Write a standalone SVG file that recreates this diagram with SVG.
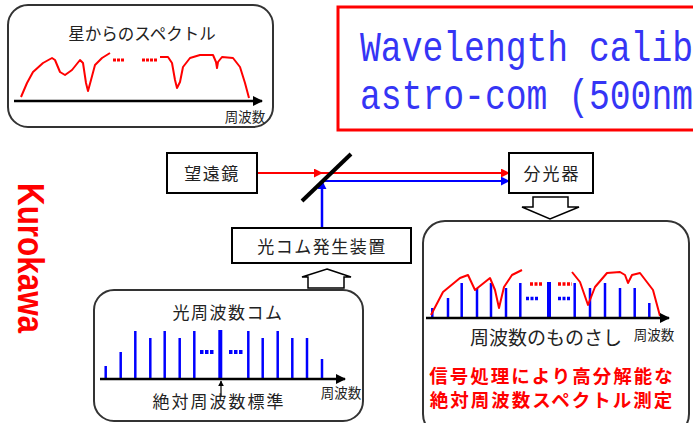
<svg xmlns="http://www.w3.org/2000/svg" width="693" height="423" viewBox="0 0 693 423">
<defs>
<style>
.jp{font-family:"Noto Sans CJK JP","Noto Sans",sans-serif;fill:#222;}
.box{fill:#fff;stroke:#000;stroke-width:2;}
.rbox{fill:#fff;stroke:#333;stroke-width:2;}
.axis{stroke:#000;stroke-width:2.5;fill:none;}
.spec{stroke:#f00;stroke-width:2;fill:none;stroke-linejoin:round;}
.comb{stroke:#00f;stroke-width:2.5;}
.blk{fill:#fff;stroke:#000;stroke-width:1.5;}
.red{font-family:"Noto Sans CJK JP","Noto Sans",sans-serif;fill:#f00;font-weight:bold;}
</style>
<marker id="ak" viewBox="0 0 10 10" refX="9" refY="5" markerWidth="10" markerHeight="10" markerUnits="userSpaceOnUse" orient="auto"><path d="M0,0 L10,5 L0,10 z" fill="#000"/></marker>
<marker id="ar" viewBox="0 0 10 10" refX="9" refY="5" markerWidth="9" markerHeight="9" markerUnits="userSpaceOnUse" orient="auto"><path d="M0,0 L10,5 L0,10 z" fill="#f00"/></marker>
<marker id="ab" viewBox="0 0 10 10" refX="9" refY="5" markerWidth="9" markerHeight="9" markerUnits="userSpaceOnUse" orient="auto"><path d="M0,0 L10,5 L0,10 z" fill="#00f"/></marker>
<marker id="at" viewBox="0 0 10 10" refX="9" refY="5" markerWidth="6" markerHeight="6" markerUnits="userSpaceOnUse" orient="auto"><path d="M0,0 L10,5 L0,10 z" fill="#000"/></marker>
</defs>
<rect width="693" height="423" fill="#fff"/>

<g id="star-spectrum">
<rect class="rbox" x="8" y="5" width="265" height="122" rx="20"/>
<text class="jp" x="142" y="40" font-size="16.5" text-anchor="middle">星からのスペクトル</text>
<path class="spec" d="M21,97 L27,83 L33,72 L43,63 L52,58 L55,60 L60,72 L65,75 L72,70 L80,60 L83,63 L86,83 L88,91 L91,80 L95,65 L102,58 L110,53"/>
<path class="spec" d="M160,57 L168,57 L172,63 L175,80 L177,88 L180,82 L183,67 L190,58 L200,55 L213,55 L216,62 L217,68 L218,62 L222,57 L233,58 L240,67 L245,83 L249,98"/>
<line x1="113" y1="60" x2="124" y2="60" stroke="#f00" stroke-width="3" stroke-dasharray="3,1"/>
<line x1="142" y1="60" x2="157" y2="60" stroke="#f00" stroke-width="3" stroke-dasharray="3,1"/>
<line class="axis" x1="14" y1="101" x2="262" y2="101" marker-end="url(#ak)"/>
<text class="jp" x="245" y="122" font-size="13.5" text-anchor="middle">周波数</text>
</g>

<g id="title">
<rect x="338" y="7" width="370" height="123" fill="#fff" stroke="#f00" stroke-width="3"/>
<text transform="translate(360,61) scale(1,1.25)" font-family="Liberation Mono, monospace" font-size="34.7" fill="#3535f5">Wavelength calib</text>
<text transform="translate(360,109) scale(1,1.25)" font-family="Liberation Mono, monospace" font-size="34.7" fill="#3535f5">astro-com (500nm</text>
</g>

<g id="author">
<text transform="translate(18,183) rotate(90)" font-family="Liberation Sans, Arial, sans-serif" font-weight="bold" font-size="36" fill="#f00" textLength="150" lengthAdjust="spacingAndGlyphs">Kurokawa</text>
</g>

<g id="connectors">
<path d="M257,173 L322,173 L509,173" stroke="#f00" stroke-width="2" fill="none" marker-mid="url(#ar)" marker-end="url(#ar)"/>
<path d="M322,228 L322,181" stroke="#00f" stroke-width="2.5" fill="none" marker-end="url(#ab)"/>
<path d="M321,181 L509,181" stroke="#00f" stroke-width="2" fill="none" marker-end="url(#ab)"/>
<line x1="302" y1="201" x2="351" y2="154" stroke="#000" stroke-width="4"/>
<polygon class="blk" points="533,197 568,197 568,207 579,207 550,219 522,207 533,207"/>
<polygon class="blk" points="327,269 351,277 344,277 344,288 308,288 308,277 302,277"/>
</g>

<g id="telescope">
<rect class="box" x="167" y="153" width="90" height="40"/>
<text class="jp" x="212" y="180" font-size="17" letter-spacing="1.5" text-anchor="middle">望遠鏡</text>
</g>

<g id="comb-generator">
<rect class="box" x="232" y="228" width="179" height="35"/>
<text class="jp" x="322" y="253" font-size="17" letter-spacing="1.5" text-anchor="middle">光コム発生装置</text>
</g>

<g id="spectrograph">
<rect class="box" x="509" y="153" width="84" height="40"/>
<text class="jp" x="552" y="180" font-size="17" letter-spacing="2" text-anchor="middle">分光器</text>
</g>

<g id="optical-comb">
<rect class="rbox" x="94" y="290" width="269" height="131" rx="20"/>
<text class="jp" x="228" y="319" font-size="17" letter-spacing="1.5" text-anchor="middle">光周波数コム</text>
<g class="comb">
<line x1="105.7" y1="366" x2="105.7" y2="379"/>
<line x1="120.7" y1="352" x2="120.7" y2="379"/>
<line x1="135.3" y1="331" x2="135.3" y2="379"/>
<line x1="150.3" y1="338" x2="150.3" y2="379"/>
<line x1="164.7" y1="331" x2="164.7" y2="379"/>
<line x1="179.7" y1="338" x2="179.7" y2="379"/>
<line x1="194.3" y1="331" x2="194.3" y2="379"/>
<line x1="220.3" y1="330" x2="220.3" y2="379" stroke-width="4"/>
<line x1="248.3" y1="331" x2="248.3" y2="379"/>
<line x1="262.7" y1="338" x2="262.7" y2="379"/>
<line x1="277.7" y1="331" x2="277.7" y2="379"/>
<line x1="292.3" y1="338" x2="292.3" y2="379"/>
<line x1="307" y1="338" x2="307" y2="379"/>
<line x1="322" y1="359" x2="322" y2="379"/>
<line x1="200" y1="352" x2="214" y2="352" stroke-width="4" stroke-dasharray="3.5,1.5"/>
<line x1="229" y1="352" x2="243" y2="352" stroke-width="4" stroke-dasharray="3.5,1.5"/>
</g>
<line class="axis" x1="100" y1="379" x2="345" y2="379" marker-end="url(#ak)"/>
<line x1="221" y1="396" x2="221" y2="381" stroke="#000" stroke-width="1.2" marker-end="url(#at)"/>
<text class="jp" x="219" y="408" font-size="17" letter-spacing="2" text-anchor="middle">絶対周波数標準</text>
<text class="jp" x="341" y="398" font-size="13.5" text-anchor="middle">周波数</text>
</g>

<g id="result">
<rect class="rbox" x="423" y="221" width="266" height="215" rx="22"/>
<g class="comb">
<line x1="432.3" y1="308" x2="432.3" y2="318"/>
<line x1="448" y1="298" x2="448" y2="318"/>
<line x1="461.7" y1="283" x2="461.7" y2="318"/>
<line x1="477" y1="288" x2="477" y2="318"/>
<line x1="491" y1="283" x2="491" y2="318"/>
<line x1="506" y1="288" x2="506" y2="318"/>
<line x1="520.3" y1="283" x2="520.3" y2="318"/>
<line x1="549" y1="282" x2="549" y2="318" stroke-width="4"/>
<line x1="574.7" y1="283" x2="574.7" y2="318"/>
<line x1="590" y1="288" x2="590" y2="318"/>
<line x1="605" y1="283" x2="605" y2="318"/>
<line x1="620" y1="288" x2="620" y2="318"/>
<line x1="634.7" y1="288" x2="634.7" y2="318"/>
<line x1="649.3" y1="303" x2="649.3" y2="318"/>
<line x1="526" y1="298.5" x2="539" y2="298.5" stroke-width="3.5" stroke-dasharray="3,1.5"/>
<line x1="558" y1="298.5" x2="571" y2="298.5" stroke-width="3.5" stroke-dasharray="3,1.5"/>
</g>
<line x1="530" y1="284" x2="543" y2="284" stroke="#f00" stroke-width="3.5" stroke-dasharray="3,1.5"/>
<line x1="558" y1="284" x2="572" y2="284" stroke="#f00" stroke-width="3.5" stroke-dasharray="3,1.5"/>
<path class="spec" d="M431,315 L443,292 L460,278 L468,275 L475,290 L485,282 L490,278 L495,290 L499,308 L504,287 L512,275 L522,270"/>
<path class="spec" d="M572,272 L580,282 L588,305 L595,287 L607,273 L620,272 L625,275 L628,283 L632,275 L640,273 L653,290 L660,316"/>
<line class="axis" x1="426" y1="318" x2="669" y2="318" marker-end="url(#ak)"/>
<text class="jp" x="546" y="345" font-size="19" text-anchor="middle">周波数のものさし</text>
<text class="jp" x="654" y="340" font-size="13.5" text-anchor="middle">周波数</text>
<text class="red" x="552" y="383" font-size="18.5" letter-spacing="2" text-anchor="middle">信号処理により高分解能な</text>
<text class="red" x="552" y="407" font-size="18.5" letter-spacing="2" text-anchor="middle">絶対周波数スペクトル測定</text>
</g>
</svg>
